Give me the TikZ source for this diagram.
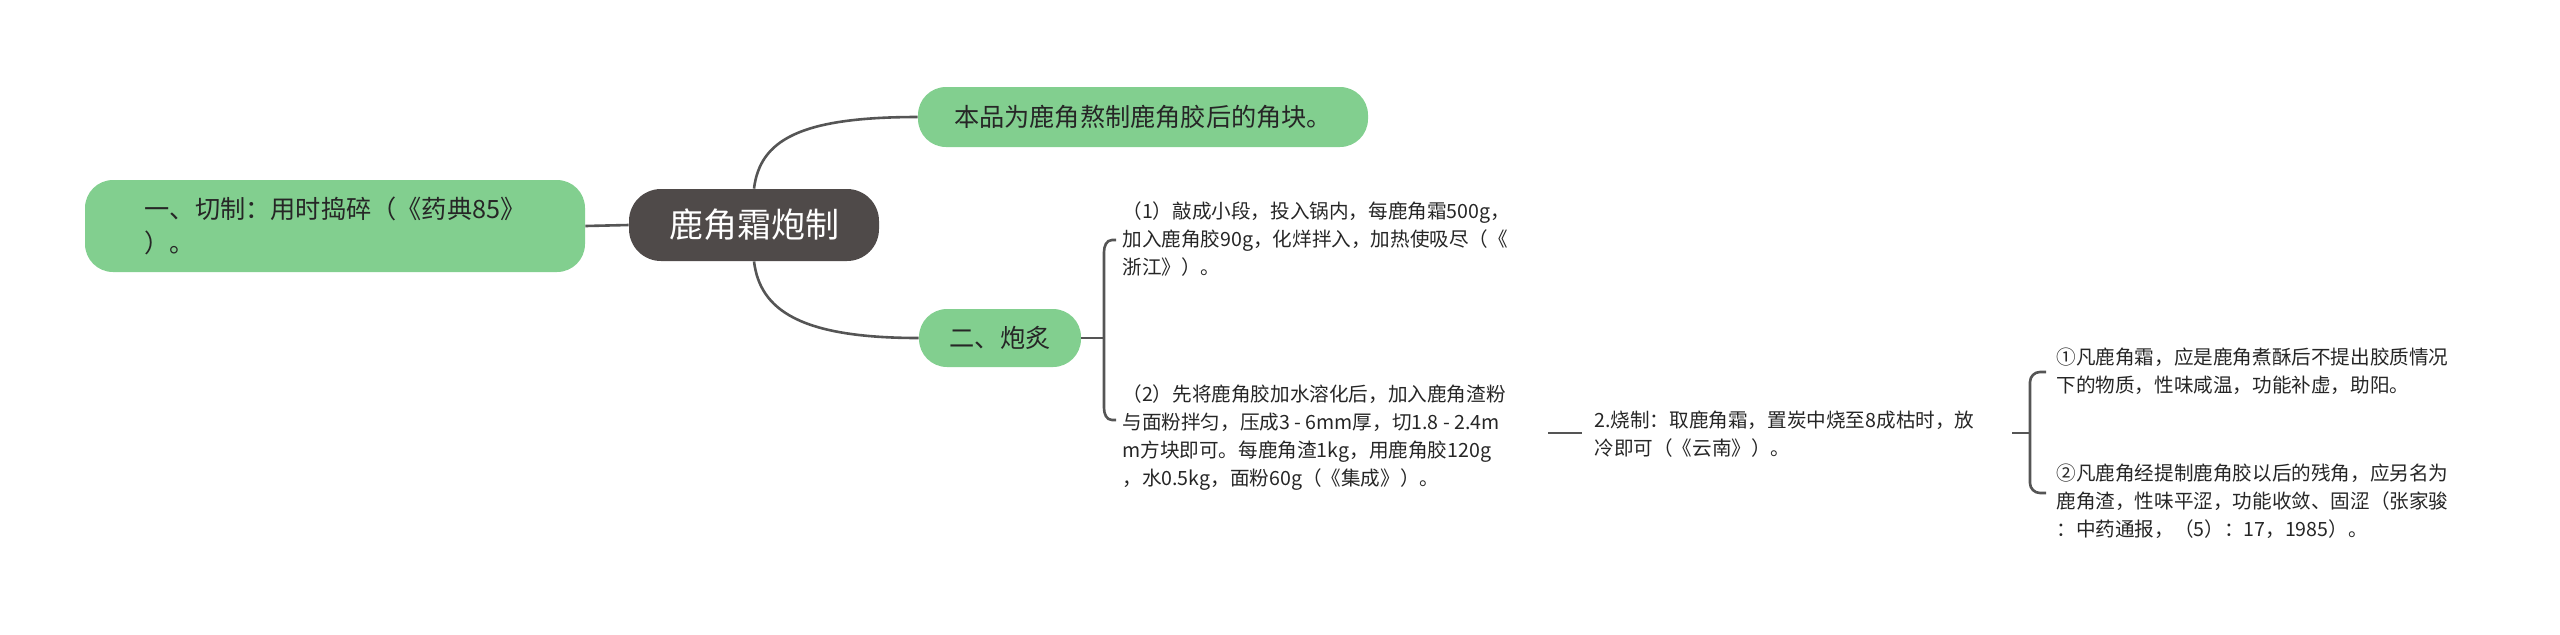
\documentclass[tikz,border=0pt]{standalone}
\usepackage{fontspec}
\setmainfont{Noto Sans CJK SC}
\definecolor{gr}{HTML}{82CF8F}
\definecolor{dk}{HTML}{4F4A49}
\definecolor{ln}{HTML}{555555}
\begin{document}
\begin{tikzpicture}[x=0.5pt,y=-0.5pt,
  gbox/.style={fill=gr,rounded corners=14pt,inner xsep=0pt,inner ysep=0pt,font=\fontsize{12.6}{17}\selectfont,text=black!85},
  txt/.style={anchor=north west,align=left,inner sep=0pt,font=\fontsize{9.8}{14}\selectfont,text=black!85},
  con/.style={draw=ln,line width=1.3pt}]
\useasboundingbox (0,0) rectangle (2560,634);
\node[fill=dk,rounded corners=16pt,minimum width=125pt,minimum height=36pt,text=white,font=\fontsize{17}{20}\selectfont] (c) at (754,225) {鹿角霜炮制};
\node[gbox,minimum width=250pt,minimum height=46pt,align=left] (l) at (335,226) {一、切制：用时捣碎（《药典85》\\）。};
\node[gbox,minimum width=225pt,minimum height=30pt] (t) at (1143,117) {本品为鹿角熬制鹿角胶后的角块。};
\node[gbox,minimum width=81pt,minimum height=29pt] (p) at (1000,338) {二、炮炙};
\draw[con] (l.east) -- (c.west);
\draw[con] (c.north) .. controls (760,140) and (800,117) .. (t.west);
\draw[con] (c.south) .. controls (760,310) and (800,338) .. (p.west);
\node[txt] (a1) at (1122,201) {（1）敲成小段，投入锅内，每鹿角霜500g，\\加入鹿角胶90g，化烊拌入，加热使吸尽（《\\浙江》）。};
\node[txt] (a2) at (1122,384) {（2）先将鹿角胶加水溶化后，加入鹿角渣粉\\与面粉拌匀，压成3 - 6mm厚，切1.8 - 2.4m\\m方块即可。每鹿角渣1kg，用鹿角胶120g\\，水0.5kg，面粉60g（《集成》）。};
\node[txt] (b) at (1594,411) {2.烧制：取鹿角霜，置炭中烧至8成枯时，放\\冷即可（《云南》）。};
\node[txt] (d1) at (2056,347) {①凡鹿角霜，应是鹿角煮酥后不提出胶质情况\\下的物质，性味咸温，功能补虚，助阳。};
\node[txt] (d2) at (2056,463) {②凡鹿角经提制鹿角胶以后的残角，应另名为\\鹿角渣，性味平涩，功能收敛、固涩（张家骏\\：中药通报，（5）：17，1985）。};
\coordinate (k1) at (1104,338);
\draw[con] (p.east) -- (k1);
\draw[con] (1116,240) -- ++(-4,0) to[out=180,in=90] (1104,252) -- (1104,408) to[out=-90,in=180] (1112,420) -- ++(4,0);
\draw[con] (1548,433) -- (1582,433);
\coordinate (k2) at (2030,433);
\draw[con] (2012,433) -- (k2);
\draw[con] (2046,372) -- ++(-6,0) to[out=180,in=90] (2030,382) -- (2030,483) to[out=-90,in=180] (2040,493) -- ++(6,0);
\end{tikzpicture}
\end{document}
